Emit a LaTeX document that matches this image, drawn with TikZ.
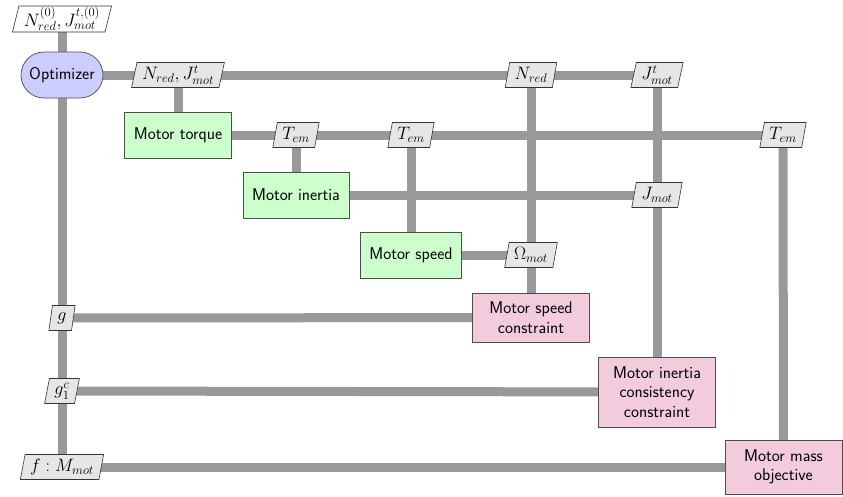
\RequirePackage{fix-cm}
\documentclass[tikz,border=0pt]{standalone}
\usepackage{fontspec}
\usetikzlibrary{shapes.geometric,shapes.misc,backgrounds}
\definecolor{optfill}{HTML}{CCCCFF}
\definecolor{procfill}{HTML}{CCFFCC}
\definecolor{funcfill}{HTML}{F2CCDC}
\definecolor{datafill}{HTML}{E6E6E6}
\definecolor{linkcol}{HTML}{999999}
\definecolor{bordercol}{HTML}{4D4D4D}
\tikzset{
  base/.style={font=\fontsize{17}{19.5}\selectfont\sffamily, draw=bordercol, line width=0.7pt, align=center},
  optbox/.style={base, rounded rectangle, fill=optfill, minimum width=88pt, minimum height=46pt, inner xsep=3pt},
  procbox/.style={base, rectangle, fill=procfill, minimum height=46pt, inner xsep=9pt},
  funcbox/.style={base, rectangle, fill=funcfill, minimum width=117pt, inner ysep=5pt},
  databox/.style={font=\fontsize{18}{20}\selectfont, draw=black!80, line width=0.6pt, trapezium, trapezium left angle=76, trapezium right angle=104, trapezium stretches body, fill=datafill, minimum height=25pt, inner xsep=5pt, inner ysep=1.5pt},
  inbox/.style={databox, fill=white},
  link/.style={draw=linkcol, line width=9pt}
}
\begin{document}
\begin{tikzpicture}[x=1pt,y=-1pt]
\useasboundingbox (0,0) rectangle (843,496);
% process nodes
\node[optbox] (opt) at (62,75) {Optimizer};
\node[procbox] (torque) at (178,135) {Motor torque};
\node[procbox] (inertia) at (296,195) {Motor inertia};
\node[procbox] (speed) at (411,255) {Motor speed};
\node[funcbox, minimum height=49pt] (speedcon) at (531,317.5) {Motor speed\\constraint};
\node[funcbox, minimum height=70pt] (inertcon) at (657,392) {Motor inertia\\consistency\\constraint};
\node[funcbox, minimum height=54pt] (massobj) at (783.5,467) {Motor mass\\objective};
% data nodes
\node[inbox] (init) at (62,19) {$N_{red}^{(0)}, J_{mot}^{t,(0)}$};
\node[databox] (dNJ) at (178,75) {$N_{red}, J_{mot}^{t}$};
\node[databox] (dNred) at (531,75) {$N_{red}$};
\node[databox] (dJt) at (657,75) {$J_{mot}^{t}$};
\node[databox] (T1) at (296,135) {$T_{em}$};
\node[databox] (T2) at (411,135) {$T_{em}$};
\node[databox] (T3) at (783,135) {$T_{em}$};
\node[databox] (Jmot) at (657,195) {$J_{mot}$};
\node[databox] (Om) at (531,255) {$\Omega_{mot}$};
\node[databox] (g) at (62,318) {$g$};
\node[databox] (gc) at (62,391) {$g_1^c$};
\node[databox] (f) at (62,467) {$f: M_{mot}$};
% connectors
\begin{pgfonlayer}{background}
\draw[link] (opt.center) -- (dNJ.center) -- (dNred.center) -- (dJt.center);
\draw[link] (torque.center) -- (T1.center) -- (T2.center) -- (T3.center);
\draw[link] (inertia.center) -- (Jmot.center);
\draw[link] (speed.center) -- (Om.center);
\draw[link] (g.center) -- (speedcon.center);
\draw[link] (gc.center) -- (inertcon.center);
\draw[link] (f.center) -- (massobj.center);
\draw[link] (init.center) -- (opt.center) -- (g.center) -- (gc.center) -- (f.center);
\draw[link] (dNJ.center) -- (torque.center);
\draw[link] (T1.center) -- (inertia.center);
\draw[link] (T2.center) -- (speed.center);
\draw[link] (dNred.center) -- (Om.center) -- (speedcon.center);
\draw[link] (dJt.center) -- (Jmot.center) -- (inertcon.center);
\draw[link] (T3.center) -- (massobj.center);
\end{pgfonlayer}
\end{tikzpicture}
\end{document}
